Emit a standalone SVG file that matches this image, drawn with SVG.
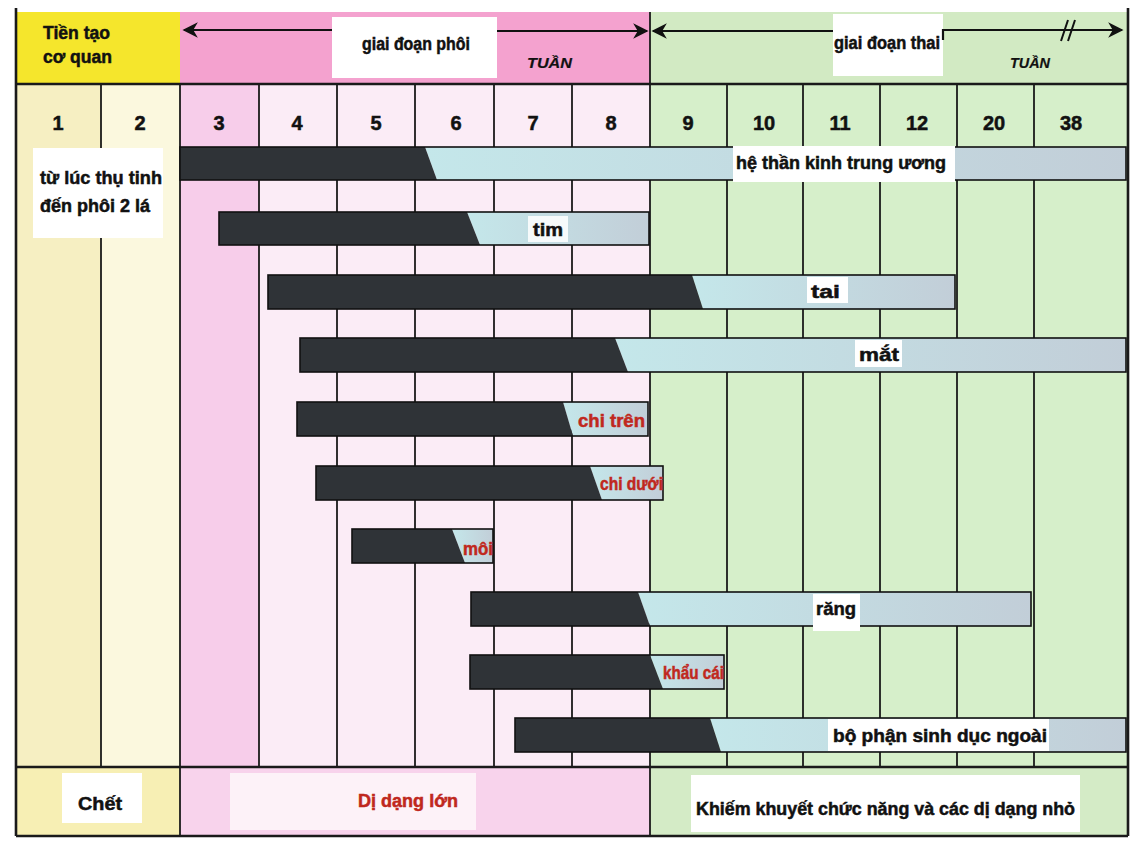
<svg xmlns="http://www.w3.org/2000/svg" width="1140" height="847" viewBox="0 0 1140 847">
<defs>
<style>
.t{font-family:"Liberation Sans Narrow","Liberation Sans",Arial,sans-serif;font-weight:bold;fill:#111;stroke:#111;stroke-width:0.5}
.num{font-size:20px;text-anchor:middle}
.lbl{font-size:18px}
.red{fill:#c0281e;stroke:#c0281e}
.it{font-style:italic;font-size:15px;stroke-width:0.2}
.dark{fill:#2f3337}
.light{fill:url(#lg)}
.edge{fill:none;stroke:#111;stroke-width:1.6}
.vl{stroke:#1a1a1a;stroke-width:1.8}
.hl{stroke:#1a1a1a;stroke-width:2.6}
.wb{fill:#ffffff}
.arr{stroke:#111;stroke-width:2.2;fill:none}
</style>
<linearGradient id="lg" x1="0" y1="0" x2="1" y2="0">
<stop offset="0" stop-color="#c4e7ea"/>
<stop offset="1" stop-color="#c2ced8"/>
</linearGradient>
<marker id="ah" viewBox="0 0 10 10" refX="9" refY="5" markerWidth="7" markerHeight="7" orient="auto-start-reverse">
<path d="M0,0 L10,5 L0,10 L3,5 Z" fill="#111"/>
</marker>
</defs>
<rect width="1140" height="847" fill="#ffffff"/>
<g id="backgrounds">
<rect x="16" y="12" width="164" height="72" fill="#f5e62c"/>
<rect x="180" y="12" width="470" height="72" fill="#f4a2cf"/>
<rect x="650" y="12" width="478" height="72" fill="#d2eac3"/>
<rect x="16" y="84" width="85" height="683" fill="#f6efc2"/>
<rect x="101" y="84" width="79" height="683" fill="#fbf8de"/>
<rect x="180" y="84" width="79" height="683" fill="#f7cdea"/>
<rect x="259" y="84" width="391" height="683" fill="#fbecf6"/>
<rect x="650" y="84" width="478" height="683" fill="#d6efca"/>
<rect x="16" y="767" width="164" height="69" fill="#f7efb4"/>
<rect x="180" y="767" width="470" height="69" fill="#f8d3ec"/>
<rect x="650" y="767" width="478" height="69" fill="#d4ebc6"/>
</g>
<g id="grid">
<line class="vl" x1="101" y1="84" x2="101" y2="767"/>
<line class="vl" x1="180" y1="84" x2="180" y2="836"/>
<line class="vl" x1="259" y1="84" x2="259" y2="767"/>
<line class="vl" x1="337" y1="84" x2="337" y2="767"/>
<line class="vl" x1="415" y1="84" x2="415" y2="767"/>
<line class="vl" x1="494" y1="84" x2="494" y2="767"/>
<line class="vl" x1="572" y1="84" x2="572" y2="767"/>
<line class="vl" x1="650" y1="12" x2="650" y2="836"/>
<line class="vl" x1="727" y1="84" x2="727" y2="767"/>
<line class="vl" x1="803" y1="84" x2="803" y2="767"/>
<line class="vl" x1="880" y1="84" x2="880" y2="767"/>
<line class="vl" x1="957" y1="84" x2="957" y2="767"/>
<line class="vl" x1="1034" y1="84" x2="1034" y2="767"/>
<line class="hl" x1="16" y1="84" x2="1128" y2="84"/>
<line class="hl" x1="16" y1="767" x2="1128" y2="767"/>
<line class="hl" x1="16" y1="836" x2="1128" y2="836"/>
<line class="hl" x1="16" y1="8" x2="16" y2="836"/>
<line class="hl" x1="1128" y1="8" x2="1128" y2="836"/>
</g>
<g id="header">
<text class="t lbl" x="43" y="39" textLength="67" lengthAdjust="spacingAndGlyphs">Tiền tạo</text>
<text class="t lbl" x="43" y="63" textLength="69" lengthAdjust="spacingAndGlyphs">cơ quan</text>
<rect class="wb" x="332" y="17" width="165" height="61"/>
<text class="t lbl" x="362" y="50" textLength="108" lengthAdjust="spacingAndGlyphs">giai đoạn phôi</text>
<text class="t it" x="527" y="68" textLength="45" lengthAdjust="spacingAndGlyphs">TUẦN</text>
<rect class="wb" x="833" y="14" width="110" height="62"/>
<text class="t lbl" x="834" y="49" textLength="106" lengthAdjust="spacingAndGlyphs">giai đoạn thai</text>
<text class="t it" x="1010" y="68" textLength="40" lengthAdjust="spacingAndGlyphs">TUẦN</text>
</g>
<g id="connectors">
<line class="arr" x1="184" y1="30" x2="332" y2="30" marker-start="url(#ah)"/>
<line class="arr" x1="497" y1="31" x2="647" y2="31" marker-end="url(#ah)"/>
<line class="arr" x1="653" y1="31" x2="833" y2="31" marker-start="url(#ah)"/>
<path class="arr" d="M943,40 L943,30 L1122,30" marker-end="url(#ah)"/>
<path d="M1061,41 L1068,20 M1068,41 L1075,20" stroke="#111" stroke-width="2" fill="none"/>
</g>
<g id="weeks">
<text class="t num" x="58" y="130">1</text>
<text class="t num" x="140" y="130">2</text>
<text class="t num" x="219" y="130">3</text>
<text class="t num" x="297" y="130">4</text>
<text class="t num" x="376" y="130">5</text>
<text class="t num" x="456" y="130">6</text>
<text class="t num" x="533" y="130">7</text>
<text class="t num" x="611" y="130">8</text>
<text class="t num" x="688" y="130">9</text>
<text class="t num" x="764" y="130">10</text>
<text class="t num" x="840" y="130">11</text>
<text class="t num" x="917" y="130">12</text>
<text class="t num" x="994" y="130">20</text>
<text class="t num" x="1071" y="130">38</text>
</g>
<g id="pre-organ-note">
<rect class="wb" x="33" y="148" width="130" height="90"/>
<text class="t lbl" x="40" y="184" textLength="122" lengthAdjust="spacingAndGlyphs">từ lúc thụ tinh</text>
<text class="t lbl" x="40" y="212" textLength="110" lengthAdjust="spacingAndGlyphs">đến phôi 2 lá</text>
</g>
<g id="bar-than-kinh">
<polygon class="light" points="425,147 1126,147 1126,180 437,180"/>
<polygon class="dark" points="180,147 425,147 437,180 180,180"/>
<rect class="edge" x="180" y="147" width="946" height="33"/>
<rect class="wb" x="733" y="146" width="222" height="36"/>
<text class="t lbl" x="736" y="169" textLength="210" lengthAdjust="spacingAndGlyphs">hệ thần kinh trung ương</text>
</g>
<g id="bar-tim">
<polygon class="light" points="467,212 649,212 649,245 480,245"/>
<polygon class="dark" points="219,212 467,212 480,245 219,245"/>
<rect class="edge" x="219" y="212" width="430" height="33"/>
<rect class="wb" x="528" y="216" width="40" height="26" fill-opacity="0.85"/>
<text class="t lbl" x="533" y="236" textLength="30" lengthAdjust="spacingAndGlyphs">tim</text>
</g>
<g id="bar-tai">
<polygon class="light" points="692,275 955,275 955,309 703,309"/>
<polygon class="dark" points="268,275 692,275 703,309 268,309"/>
<rect class="edge" x="268" y="275" width="687" height="34"/>
<rect class="wb" x="807" y="277" width="41" height="26"/>
<text class="t lbl" x="811" y="298" textLength="29" lengthAdjust="spacingAndGlyphs">tai</text>
</g>
<g id="bar-mat">
<polygon class="light" points="615,338 1126,338 1126,372 628,372"/>
<polygon class="dark" points="300,338 615,338 628,372 300,372"/>
<rect class="edge" x="300" y="338" width="826" height="34"/>
<rect class="wb" x="855" y="340" width="47" height="27"/>
<text class="t lbl" x="859" y="361" textLength="40" lengthAdjust="spacingAndGlyphs">mắt</text>
</g>
<g id="bar-chi-tren">
<polygon class="light" points="563,402 648,402 648,436 573,436"/>
<polygon class="dark" points="297,402 563,402 573,436 297,436"/>
<rect class="edge" x="297" y="402" width="351" height="34"/>
<text class="t lbl red" x="578" y="427" textLength="67" lengthAdjust="spacingAndGlyphs">chi trên</text>
</g>
<g id="bar-chi-duoi">
<polygon class="light" points="590,466 663,466 663,500 602,500"/>
<polygon class="dark" points="316,466 590,466 602,500 316,500"/>
<rect class="edge" x="316" y="466" width="347" height="34"/>
<text class="t lbl red" x="600" y="490" textLength="63" lengthAdjust="spacingAndGlyphs">chi dưới</text>
</g>
<g id="bar-moi">
<polygon class="light" points="452,529 493,529 493,563 465,563"/>
<polygon class="dark" points="352,529 452,529 465,563 352,563"/>
<rect class="edge" x="352" y="529" width="141" height="34"/>
<text class="t lbl red" x="463" y="555" textLength="30" lengthAdjust="spacingAndGlyphs">môi</text>
</g>
<g id="bar-rang">
<polygon class="light" points="638,592 1031,592 1031,626 650,626"/>
<polygon class="dark" points="471,592 638,592 650,626 471,626"/>
<rect class="edge" x="471" y="592" width="560" height="34"/>
<rect class="wb" x="813" y="594" width="47" height="37"/>
<text class="t lbl" x="816" y="615" textLength="40" lengthAdjust="spacingAndGlyphs">răng</text>
</g>
<g id="bar-khau-cai">
<polygon class="light" points="650,655 724,655 724,689 663,689"/>
<polygon class="dark" points="470,655 650,655 663,689 470,689"/>
<rect class="edge" x="470" y="655" width="254" height="34"/>
<text class="t lbl red" x="663" y="679" textLength="61" lengthAdjust="spacingAndGlyphs">khẩu cái</text>
</g>
<g id="bar-sinh-duc">
<polygon class="light" points="710,718 1126,718 1126,752 721,752"/>
<polygon class="dark" points="515,718 710,718 721,752 515,752"/>
<rect class="edge" x="515" y="718" width="611" height="34"/>
<rect class="wb" x="828" y="719" width="221" height="32"/>
<text class="t lbl" x="833" y="742" textLength="214" lengthAdjust="spacingAndGlyphs">bộ phận sinh dục ngoài</text>
</g>
<g id="outcome-chet">
<rect class="wb" x="62" y="773" width="80" height="50"/>
<text class="t lbl" x="78" y="810" textLength="44" lengthAdjust="spacingAndGlyphs">Chết</text>
</g>
<g id="outcome-di-dang-lon">
<rect x="230" y="773" width="246" height="57" fill="#fdf2f8"/>
<text class="t lbl red" x="358" y="807" textLength="100" lengthAdjust="spacingAndGlyphs">Dị dạng lớn</text>
</g>
<g id="outcome-khiem-khuyet">
<rect class="wb" x="691" y="775" width="389" height="57"/>
<text class="t lbl" x="696" y="815" textLength="379" lengthAdjust="spacingAndGlyphs">Khiếm khuyết chức năng và các dị dạng nhỏ</text>
</g>
</svg>
